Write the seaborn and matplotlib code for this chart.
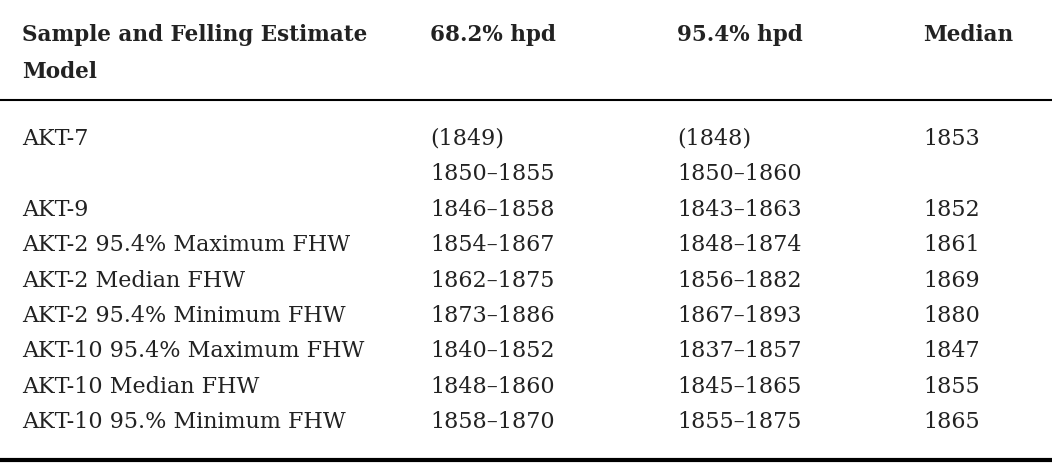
import matplotlib
matplotlib.use("Agg")
import matplotlib.pyplot as plt
import seaborn as sns

headers = ["Sample and Felling Estimate\nModel", "68.2% hpd", "95.4% hpd", "Median"]
samples = ["AKT-7", "", "AKT-9", "AKT-2 95.4% Maximum FHW", "AKT-2 Median FHW",
           "AKT-2 95.4% Minimum FHW", "AKT-10 95.4% Maximum FHW", "AKT-10 Median FHW",
           "AKT-10 95.% Minimum FHW"]
hpd68 = ["(1849)", "1850–1855", "1846–1858", "1854–1867", "1862–1875", "1873–1886",
         "1840–1852", "1848–1860", "1858–1870"]
hpd95 = ["(1848)", "1850–1860", "1843–1863", "1848–1874", "1856–1882", "1867–1893",
         "1837–1857", "1845–1865", "1855–1875"]
median = ["1853", "", "1852", "1861", "1869", "1880", "1847", "1855", "1865"]

sns.set_theme(style="white")
plt.rcParams['font.family'] = ['DejaVu Serif']

fig = plt.figure(figsize=(10.52, 4.64), dpi=100)
ax = fig.add_axes([0, 0, 1, 1])
ax.set_xlim(0, 1052)
ax.set_ylim(464, 0)
ax.axis("off")

colx = [22, 430, 677, 923]
col = "#222222"
for x, h in zip(colx, headers):
    ax.text(x, 41, h.split("\n")[0], fontsize=15.5, fontweight="bold", va="baseline",
            ha="left", color=col)
    if "\n" in h:
        ax.text(x, 78, h.split("\n")[1], fontsize=15.5, fontweight="bold",
                va="baseline", ha="left", color=col)
ax.hlines(101, 0, 1052, color="black", lw=1.5)
ax.hlines(461, 0, 1052, color="black", lw=3)

y0, dy = 145, 35.4
for i, row in enumerate(zip(samples, hpd68, hpd95, median)):
    for x, v in zip(colx, row):
        ax.text(x, y0 + i * dy, v, fontsize=16, va="baseline", ha="left", color=col)

fig.savefig("out.png", dpi=100)
